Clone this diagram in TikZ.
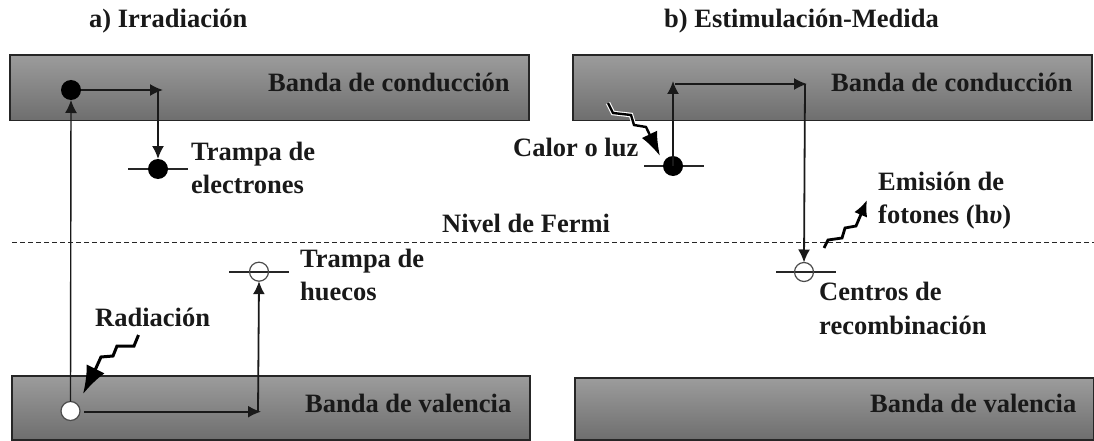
\documentclass[tikz,border=0pt]{standalone}
\usepackage{fontspec}
\setmainfont{Liberation Serif}
\usetikzlibrary{arrows.meta}
\definecolor{bandtop}{HTML}{9C9C9C}
\definecolor{bandbot}{HTML}{6E6E6E}
\tikzset{
  x=1pt,y=-1pt,
  band/.style={draw=black!85,line width=1.3pt,top color=bandtop,bottom color=bandbot,minimum height=#1,rectangle,inner sep=0pt,outer sep=0pt},
  label/.style={anchor=base west,font=\fontsize{26.5}{26.5}\selectfont\bfseries,inner sep=0pt,text=black!90},
  elec/.style={circle,fill=black,minimum size=20pt,inner sep=0pt,outer sep=0pt},
  hole/.style={circle,draw=black!70,fill=white,line width=1.2pt,minimum size=19pt,inner sep=0pt,outer sep=0pt},
  hollow/.style={circle,draw=black!70,line width=1.2pt,minimum size=19pt,inner sep=0pt,outer sep=0pt},
  level/.style={line width=2.4pt,black!85},
  flow/.style={line width=1.8pt,black!90,-{Latex[length=13pt,width=12pt]}},
  fermi/.style={line width=1.2pt,black!85,dash pattern=on 5pt off 3pt},
  wave/.style={line width=3pt,black,line join=miter,-{Latex[length=28pt,width=20pt]}},
  halo/.style={line width=4.6pt,white,line join=miter}
}
\begin{document}
\begin{tikzpicture}
\useasboundingbox (0,0) rectangle (1094,441);
% bands
\node[band=65.5pt,minimum width=519pt,anchor=north west] (cb1) at (10,55) {};
\node[band=65.5pt,minimum width=519pt,anchor=north west] (cb2) at (573,55) {};
\node[band=64pt,minimum width=518pt,anchor=north west] (vb1) at (12,376) {};
\node[band=62pt,minimum width=519pt,anchor=north west] (vb2) at (575,378) {};
% Fermi level
\coordinate (f0) at (12,242.7);
\coordinate (f1) at (1094,242.7);
\draw[fermi] (f0) -- (f1);
% a) trap lines
\coordinate (ta0) at (128,169); \coordinate (ta1) at (188,169);
\draw[level] (ta0) -- (ta1);
\coordinate (ha0) at (229,271.7); \coordinate (ha1) at (289,271.7);
\draw[level] (ha0) -- (ha1);
% b) trap lines
\coordinate (tb0) at (644,166); \coordinate (tb1) at (704,166);
\draw[level] (tb0) -- (tb1);
\coordinate (rb0) at (776,272); \coordinate (rb1) at (836,272);
\draw[level] (rb0) -- (rb1);
% dots
\node[elec] (e1) at (71,90) {};
\node[elec] (e2) at (158,169) {};
\node[hole] (h1) at (70.5,411) {};
\node[hollow] (h2) at (259,271.7) {};
\node[elec] (e3) at (673,166) {};
\node[hollow] (h3) at (804,272) {};
% a) connectors
\coordinate (c1) at (158,90);
\coordinate (c1t) at (163,90);
\draw[flow] (e1.east) -- (c1t);
\draw[flow] (c1) -- (e2.north);
\draw[flow,line width=1.4pt] (h1.north) -- (e1.south);
\coordinate (c2) at (258,411.7);
\coordinate (c2t) at (261,411.7);
\coordinate (h1s) at (84,411.7);
\draw[flow] (h1s) -- (c2t);
\draw[flow] (c2) -- (h2.south);
% b) connectors
\coordinate (c3) at (673,81);
\draw[flow] (e3.center) -- (c3);
\coordinate (c3s) at (675,84);
\coordinate (c4) at (805,84);
\coordinate (c4t) at (807,84);
\draw[flow] (c3s) -- (c4t);
\draw[flow] (c4) -- (h3.north);
% Radiacion
\coordinate (r0) at (138.5,335);
\coordinate (r1) at (134,346);
\coordinate (r2) at (117,346);
\coordinate (r3) at (113,356);
\coordinate (r4) at (101,357);
\coordinate (r5) at (96,368);
\coordinate (r6) at (83,394);
\draw[wave] (r0) -- (r1) -- (r2) -- (r3) -- (r4) -- (r5) -- (r6);
% Calor o luz
\coordinate (q0) at (608,103);
\coordinate (q1) at (613,113);
\coordinate (q2) at (631,115);
\coordinate (q3) at (634,125);
\coordinate (q4) at (646,127);
\coordinate (q5) at (660,156);
\draw[halo] (q0) -- (q1) -- (q2) -- (q3) -- (q4);
\draw[wave,line width=2.4pt,-{Latex[length=24pt,width=17pt]}] (q0) -- (q1) -- (q2) -- (q3) -- (q4) -- (q5);
% Emision
\coordinate (m0) at (824,248);
\coordinate (m1) at (828,240);
\coordinate (m2) at (842,238);
\coordinate (m3) at (845,228);
\coordinate (m4) at (856,226);
\coordinate (m5) at (867,200);
\draw[wave,line width=2.8pt,-{Latex[length=16pt,width=14pt]}] (m0) -- (m1) -- (m2) -- (m3) -- (m4) -- (m5);
% texts
\node[label] (ta) at (89,28) {a) Irradiación};
\node[label] (tb) at (664,28) {b) Estimulación-Medida};
\node[label] (l1) at (268,92) {Banda de conducción};
\node[label] (l2) at (831,92) {Banda de conducción};
\node[label] (l3) at (305,412) {Banda de valencia};
\node[label] (l4) at (870,412) {Banda de valencia};
\node[label] (l5) at (191,160) {Trampa de};
\node[label] (l6) at (191,193) {electrones};
\node[label] (l7) at (300,267) {Trampa de};
\node[label] (l8) at (300,300) {huecos};
\node[label] (l9) at (95,326) {Radiación};
\node[label] (l10) at (442,232) {Nivel de Fermi};
\node[label] (l11) at (513,156) {Calor o luz};
\node[label] (l12) at (878,190) {Emisión de};
\node[label] (l13) at (878,223) {fotones (h\textit{υ})};
\node[label] (l14) at (819,300) {Centros de};
\node[label] (l15) at (819,334) {recombinación};
\end{tikzpicture}
\end{document}
